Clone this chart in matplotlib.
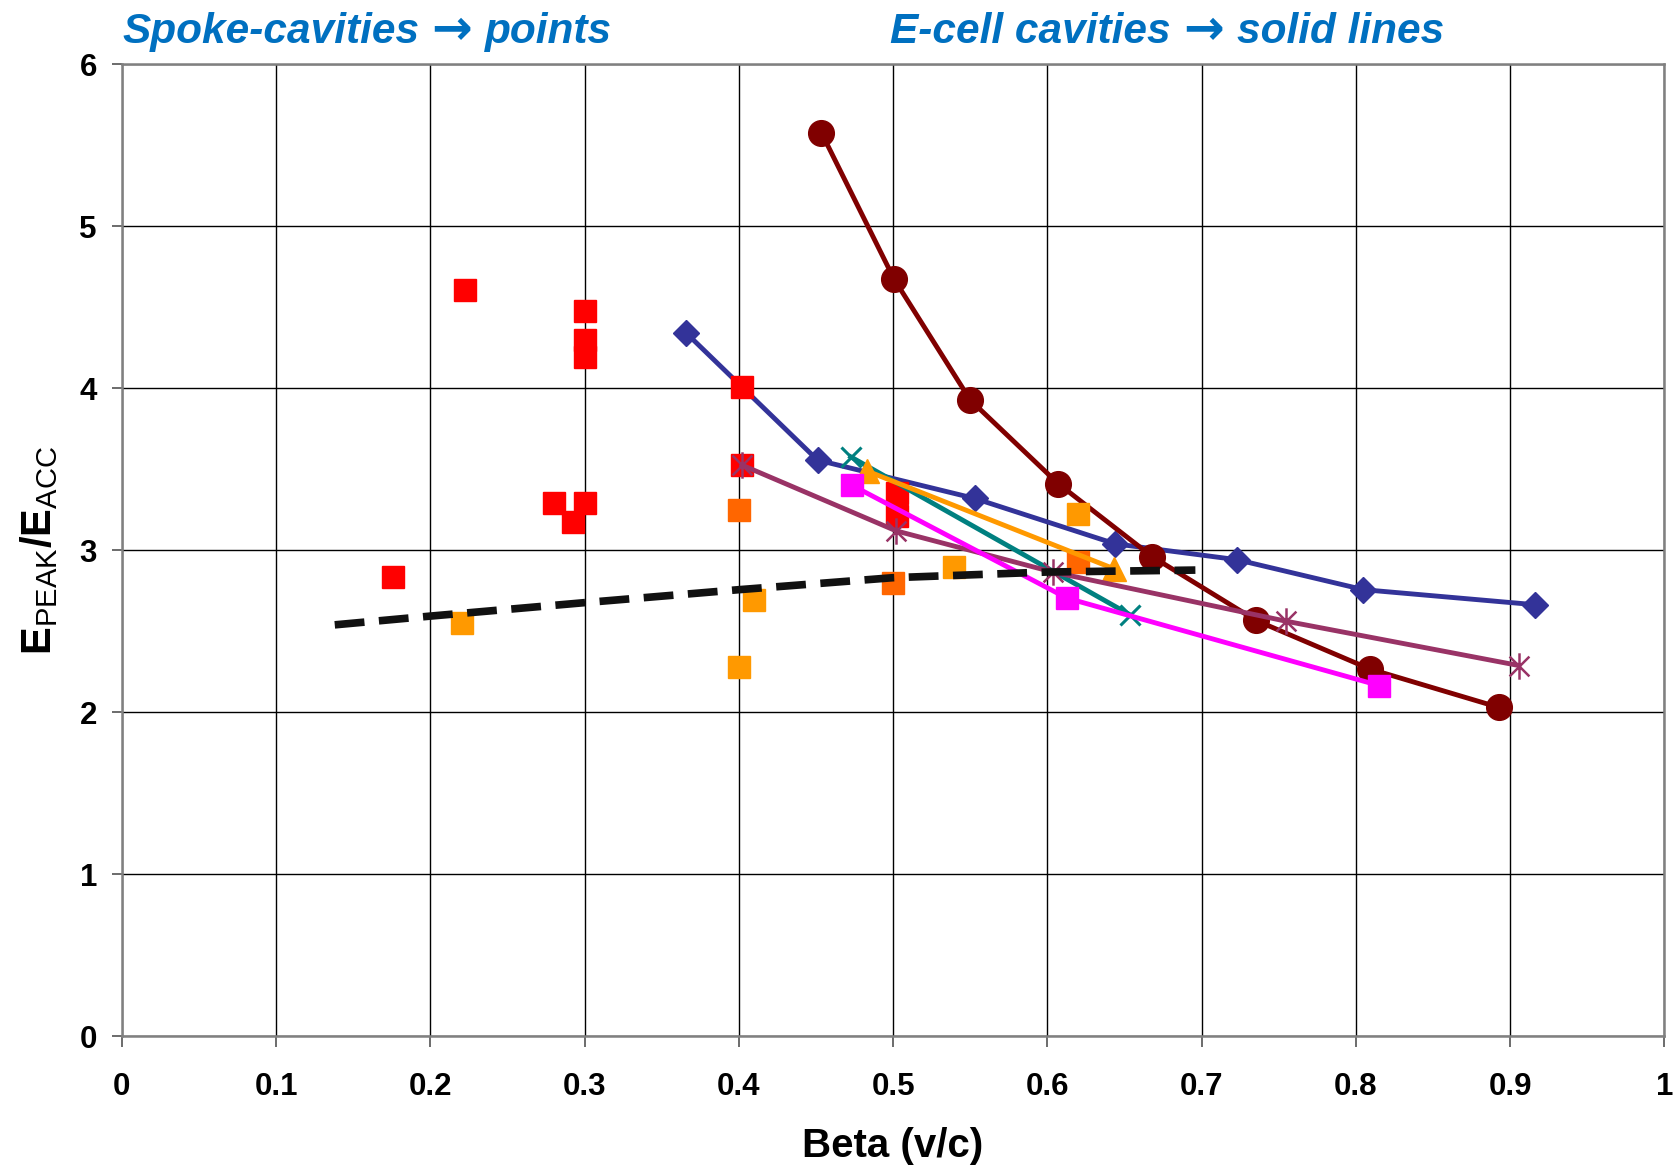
import matplotlib
matplotlib.use('Agg')
import matplotlib.pyplot as plt
from matplotlib.path import Path

plt.rcParams['font.family'] = ['Liberation Sans', 'DejaVu Sans']
plt.rcParams['mathtext.fontset'] = 'custom'
plt.rcParams['mathtext.rm'] = 'Liberation Sans'
plt.rcParams['mathtext.bf'] = 'Liberation Sans:bold'

# ---- E-cell cavities (solid lines) ----
blue_x = [0.366, 0.451, 0.553, 0.644, 0.723, 0.805, 0.9165]
blue_y = [4.34, 3.557, 3.32, 3.04, 2.942, 2.757, 2.664]

darkred_x = [0.4535, 0.5007, 0.550, 0.607, 0.668, 0.7354, 0.809, 0.8926]
darkred_y = [5.578, 4.673, 3.928, 3.412, 2.961, 2.567, 2.268, 2.031]

purple_x = [0.402, 0.502, 0.6035, 0.7545, 0.9057]
purple_y = [3.526, 3.12, 2.866, 2.563, 2.289]

teal_x = [0.4725, 0.6536]
teal_y = [3.577, 2.602]

orange_tri_x = [0.483, 0.643]
orange_tri_y = [3.49, 2.887]

magenta_x = [0.4732, 0.6127, 0.8153]
magenta_y = [3.402, 2.705, 2.165]

# ---- Spoke cavities (points) ----
red_x = [0.1758, 0.2225, 0.300, 0.300, 0.300, 0.2804, 0.300, 0.2923, 0.402, 0.402, 0.5025, 0.5025]
red_y = [2.834, 4.605, 4.479, 4.298, 4.191, 3.29, 3.29, 3.177, 4.006, 3.526, 3.355, 3.21]

orangered_x = [0.400, 0.500, 0.6197]
orangered_y = [3.247, 2.798, 2.928]

orange_sq_x = [0.2203, 0.4095, 0.400, 0.5396, 0.6197]
orange_sq_y = [2.55, 2.695, 2.278, 2.897, 3.223]

# ---- dashed trend line ----
trend_x = [0.138, 0.2, 0.3, 0.4, 0.5, 0.6, 0.696]
trend_y = [2.54, 2.594, 2.677, 2.757, 2.831, 2.866, 2.878]

x_ticks = [0, 0.1, 0.2, 0.3, 0.4, 0.5, 0.6, 0.7, 0.8, 0.9, 1]
x_tick_labels = ['0', '0.1', '0.2', '0.3', '0.4', '0.5', '0.6', '0.7', '0.8', '0.9', '1']
y_ticks = [0, 1, 2, 3, 4, 5, 6]
y_tick_labels = ['0', '1', '2', '3', '4', '5', '6']

# asterisk marker (vertical line + x)
star = Path([(0, -1), (0, 1), (-0.75, -0.75), (0.75, 0.75), (-0.75, 0.75), (0.75, -0.75)],
            [Path.MOVETO, Path.LINETO, Path.MOVETO, Path.LINETO, Path.MOVETO, Path.LINETO])

fig = plt.figure(figsize=(16.77, 11.70), dpi=100)
ax = fig.add_axes([0.0727, 0.1142, 0.9197, 0.8309])

LW = 3.5
ax.plot(blue_x, blue_y, color='#333399', lw=LW, marker='D', ms=13, zorder=3)
ax.plot(darkred_x, darkred_y, color='#800000', lw=LW, marker='o', ms=18.5, zorder=3)
ax.plot(red_x, red_y, ls='none', marker='s', ms=15.5, color='#FF0000', zorder=4)
ax.plot(orangered_x, orangered_y, ls='none', marker='s', ms=15.5, color='#FF6600', zorder=4)
ax.plot(orange_sq_x, orange_sq_y, ls='none', marker='s', ms=15.5, color='#FF9900', zorder=4)
ax.plot(teal_x, teal_y, color='#008080', lw=LW, marker='x', ms=15, mew=2.2, zorder=5)
ax.plot(orange_tri_x, orange_tri_y, color='#FF9900', lw=LW, marker='^', ms=17, zorder=5)
ax.plot(purple_x, purple_y, color='#993366', lw=LW, marker=star, ms=19, mew=1.8, zorder=5)
ax.plot(magenta_x, magenta_y, color='#FF00FF', lw=LW, marker='s', ms=15.5, zorder=6)
ax.plot(trend_x, trend_y, color='#111111', lw=5.5, dashes=(3.9, 1.9), zorder=7)

ax.set_xlim(0, 1)
ax.set_ylim(0, 6)
ax.set_xticks(x_ticks)
ax.set_xticklabels(x_tick_labels)
ax.set_yticks(y_ticks)
ax.set_yticklabels(y_tick_labels)
ax.grid(True, color='black', lw=1.0, zorder=0)
ax.set_axisbelow(True)
for sp in ax.spines.values():
    sp.set_color('#808080')
    sp.set_linewidth(1.8)
ax.tick_params(axis='x', direction='out', length=8, width=1.3, color='#606060', pad=18,
               labelsize=22.5)
ax.tick_params(axis='y', direction='out', length=7, width=1.3, color='#606060', pad=11,
               labelsize=22.5)
for lab in ax.get_xticklabels() + ax.get_yticklabels():
    lab.set_fontweight('bold')

ax.set_xlabel('Beta (v/c)', fontsize=29, fontweight='bold', labelpad=18)
ax.set_ylabel(r'$\mathbf{E}_{\mathrm{PEAK}}\mathbf{/E}_{\mathrm{ACC}}$', fontsize=30, labelpad=14)

title_kw = dict(color='#0070C0', fontsize=30.5, fontweight='bold', fontstyle='italic')
arrow_kw = dict(color='#0070C0', fontsize=35, fontweight='bold',
                family=['Noto Sans', 'DejaVu Sans'])


def title(x, left, right):
    t1 = fig.text(x, 0.963, left, va='baseline', ha='left', **title_kw)
    an = ax.annotate('\u2192', xy=(1, 0.5), xycoords=t1, xytext=(9, 1),
                     textcoords='offset points', va='center', ha='left',
                     annotation_clip=False, **arrow_kw)
    ax.annotate(right, xy=(1, 0), xycoords=(an, t1), xytext=(9, 0),
                textcoords='offset points', va='bottom', ha='left',
                annotation_clip=False, **title_kw)


title(0.0728, 'Spoke-cavities', 'points')
title(0.531, 'E-cell cavities', 'solid lines')

fig.savefig('out.png', dpi=100)
